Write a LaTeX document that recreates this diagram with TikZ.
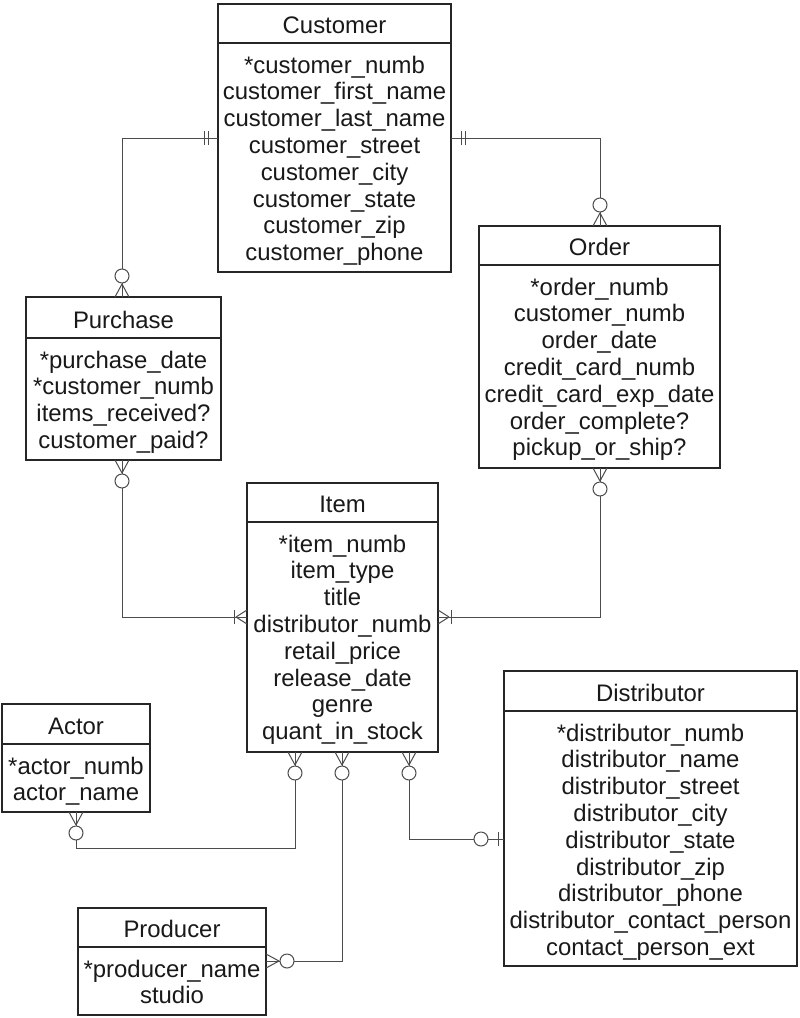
\documentclass[tikz,border=0pt]{standalone}
\usepackage{fontspec}
\setmainfont{Liberation Sans}
\usetikzlibrary{calc}
\tikzset{
  box/.style={draw=black!85, line width=1.2pt, inner sep=0pt, outer sep=0pt, anchor=north west},
  divline/.style={draw=black!85, line width=1.2pt},
  conn/.style={draw=black!70, line width=1pt},
  knot/.style={conn, fill=white},
  txt/.style={anchor=base, inner sep=0pt, font=\fontsize{23.9}{27}\selectfont, text=black!90},
}
% #1 name, #2 x, #3 y, #4 width, #5 height, #6 divider offset, #7 title, #8 attributes
\newcommand\entity[8]{%
  \node[box, minimum width=#4pt, minimum height=#5pt] (#1) at (#2,#3) {};
  \draw[divline] ($(#1.north west)+(0,#6)$) -- ($(#1.north east)+(0,#6)$);
  \node[txt] (#1-t) at ($(#1.north)+(0,{#6-10})$) {#7};
  \foreach \a [count=\i] in {#8}
    \node[txt] (#1-\i) at ($(#1.north)+(0,{#6+30+(\i-1)*26.8})$) {\a};
}
% crow's foot: #1 point, #2 outward angle, #3 apex distance
\newcommand\crowft[3]{\begin{scope}[shift={#1},rotate=#2]
  \draw[conn] (#3pt,0pt) -- (0pt,7pt) (#3pt,0pt) -- (0pt,-7pt);\end{scope}}
% circle: #1 point, #2 angle, #3 centre distance
\newcommand\ring[3]{\begin{scope}[shift={#1},rotate=#2]
  \draw[knot] (#3pt,0pt) circle[radius=7pt];\end{scope}}
% bar: #1 point, #2 angle, #3 distance
\newcommand\tick[3]{\begin{scope}[shift={#1},rotate=#2]
  \draw[conn] (#3pt,-7pt) -- (#3pt,7pt);\end{scope}}
\begin{document}
\begin{tikzpicture}[x=1pt,y=-1pt]
\fill[white] (0,0) rectangle (800,1018);
\useasboundingbox (0,0) rectangle (800,1018);

\entity{cust}{218}{4}{233}{268}{39}{Customer}{*customer\_numb,customer\_first\_name,customer\_last\_name,customer\_street,customer\_city,customer\_state,customer\_zip,customer\_phone}
\entity{order}{479}{226}{241}{242}{39}{Order}{*order\_numb,customer\_numb,order\_date,credit\_card\_numb,credit\_card\_exp\_date,order\_complete?,pickup\_or\_ship?}
\entity{purch}{26}{297}{195}{163}{41}{Purchase}{*purchase\_date,*customer\_numb,items\_received?,customer\_paid?}
\entity{item}{247}{483}{191}{269}{39}{Item}{*item\_numb,item\_type,title,distributor\_numb,retail\_price,release\_date,genre,quant\_in\_stock}
\entity{actor}{2}{704}{148}{108}{40}{Actor}{*actor\_numb,actor\_name}
\entity{dist}{504}{671}{293}{295}{40}{Distributor}{*distributor\_numb,distributor\_name,distributor\_street,distributor\_city,distributor\_state,distributor\_zip,distributor\_phone,distributor\_contact\_person,contact\_person\_ext}
\entity{prod}{78}{908}{188}{107}{39}{Producer}{*producer\_name,studio}

% bend points
\coordinate (b1) at (122,138);
\coordinate (b2) at (600,138);
\coordinate (b3) at (122,617);
\coordinate (b4) at (600,617);
\coordinate (b5a) at (295,848);
\coordinate (b5b) at (76,848);
\coordinate (b6) at (342,961);
\coordinate (b7) at (409,839);

% connectors
\draw[conn] (cust.west |- b1) -- (b1) -- (purch.north -| b1);
\draw[conn] (cust.east |- b2) -- (b2) -- (order.north -| b2);
\draw[conn] (purch.south -| b3) -- (b3) -- (item.west |- b3);
\draw[conn] (order.south -| b4) -- (b4) -- (item.east |- b4);
\draw[conn] (item.south -| b5a) -- (b5a) -- (b5b) -- (actor.south -| b5b);
\draw[conn] (item.south -| b6) -- (b6) -- (prod.east |- b6);
\draw[conn] (item.south -| b7) -- (b7) -- (dist.west |- b7);

% Customer ends: exactly one
\tick{(cust.west |- b1)}{180}{10}\tick{(cust.west |- b1)}{180}{14}
\tick{(cust.east |- b2)}{0}{10}\tick{(cust.east |- b2)}{0}{14}
% Purchase top, Order top: zero or many
\crowft{(purch.north -| b1)}{90}{13}\ring{(purch.north -| b1)}{90}{21}
\crowft{(order.north -| b2)}{90}{13}\ring{(order.north -| b2)}{90}{21}
% Purchase bottom, Order bottom
\crowft{(purch.south -| b3)}{-90}{13}\ring{(purch.south -| b3)}{-90}{21}
\crowft{(order.south -| b4)}{-90}{13}\ring{(order.south -| b4)}{-90}{21}
% Item sides: one or many
\crowft{(item.west |- b3)}{180}{11}\tick{(item.west |- b3)}{180}{13}
\crowft{(item.east |- b4)}{0}{11}\tick{(item.east |- b4)}{0}{13}
% Item bottom: zero or many
\crowft{(item.south -| b5a)}{-90}{13}\ring{(item.south -| b5a)}{-90}{21}
\crowft{(item.south -| b6)}{-90}{13}\ring{(item.south -| b6)}{-90}{21}
\crowft{(item.south -| b7)}{-90}{13}\ring{(item.south -| b7)}{-90}{21}
% Actor, Producer: zero or many
\crowft{(actor.south -| b5b)}{-90}{13}\ring{(actor.south -| b5b)}{-90}{21}
\crowft{(prod.east |- b6)}{0}{13}\ring{(prod.east |- b6)}{0}{21}
% Distributor: zero or one
\ring{(dist.west |- b7)}{180}{23}\tick{(dist.west |- b7)}{180}{6}
\end{tikzpicture}
\end{document}
